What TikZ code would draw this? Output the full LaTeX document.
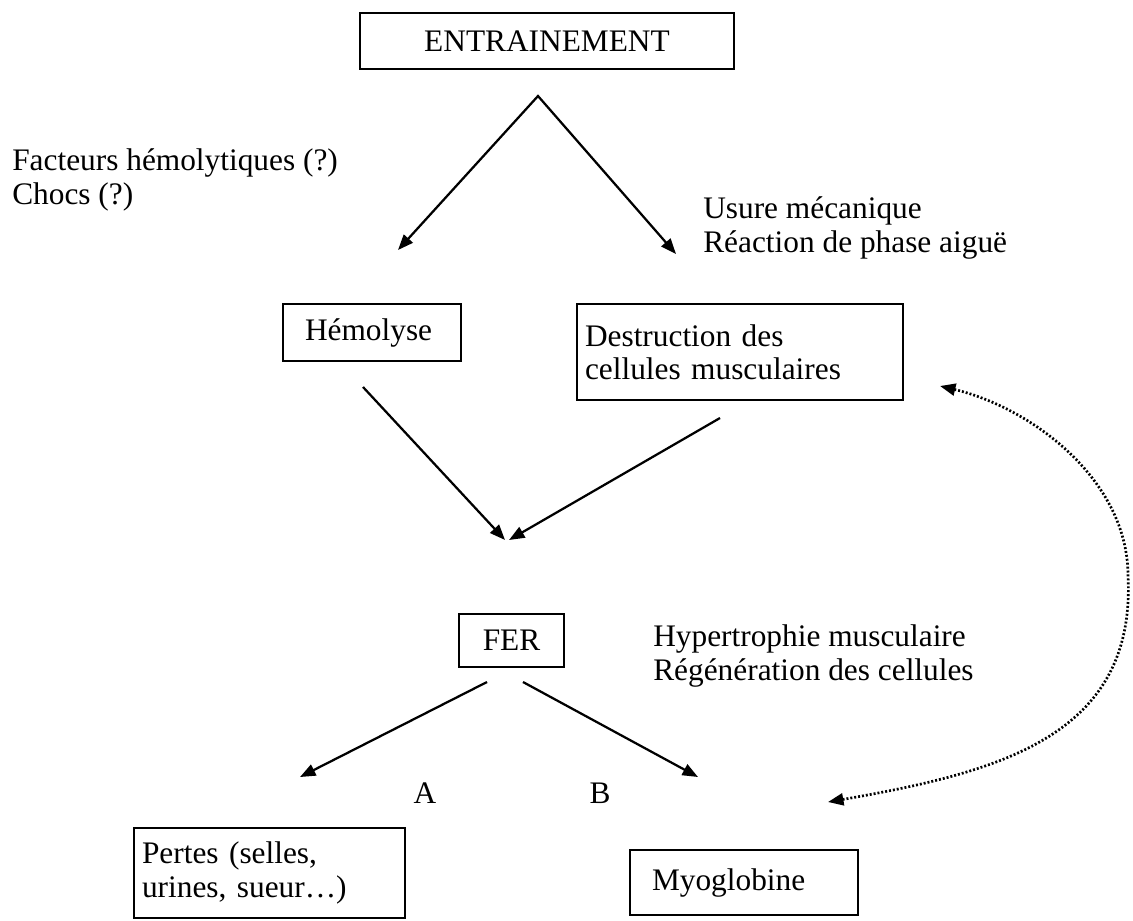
\documentclass[tikz,border=0pt]{standalone}
\usepackage{fontspec}
\setmainfont{Liberation Serif}
\usetikzlibrary{arrows.meta}

\begin{document}
\begin{tikzpicture}[
		boite/.style={draw, line width=1.3pt, inner ysep=0pt, align=left},
		fleche/.style={line width=1.6pt, -{Triangle[length=11pt,width=8.5pt]}},
		pointille/.style={line width=1.9pt, dash pattern=on 1.4pt off 1.4pt,
			{Triangle[length=11pt,width=8.5pt]}-{Triangle[length=11pt,width=8.5pt]}},
		every node/.style={font=\fontsize{22.3}{23.8}\selectfont}
	]
			%%%%% START %%%%%
			
			\useasboundingbox (0, 0) rectangle (28.325, -23);
			
			\node[boite, align=center, minimum width=9.35cm, minimum height=1.4cm] (entr) at (13.675, -1.025) {ENTRAINEMENT};
			
			% base = last line
			\node[anchor=base west, align=left, inner sep=0] (facteurs) at (0.3, -5.1) {Facteurs hémolytiques (?)\\Chocs (?)};
			\node[anchor=base west, align=left, inner sep=0] (usure) at (17.575, -6.3) {Usure mécanique\\Réaction de phase aiguë};
			
			\coordinate (sommet) at (13.45, -2.4);
			\coordinate (pointeG) at (9.95, -6.25);
			\coordinate (pointeD) at (16.9, -6.35);
			\draw[fleche, {Triangle[length=11pt,width=8.5pt]}-{Triangle[length=11pt,width=8.5pt]}] (pointeG) -- (sommet) -- (pointeD);
			
			\node[boite, inner xsep=0.55cm, text width=3.35cm, minimum height=1.425cm] (hemo) at (9.3, -8.3125) {Hémolyse};
			\node[boite, inner xsep=0.2cm, text width=7.75cm, minimum height=2.4cm] (destr) at (18.5, -8.8) {Destruction des\\cellules musculaires};
			
			\coordinate (departH) at (9.075, -9.675);
			\coordinate (departD) at (18, -10.45);
			\coordinate (arriveeH) at (12.625, -13.5);
			\coordinate (arriveeD) at (12.725, -13.5);
			\draw[fleche] (departH) -- (arriveeH);
			\draw[fleche] (departD) -- (arriveeD);
			
			\node[boite, align=center, minimum width=2.625cm, minimum height=1.325cm] (fer) at (12.7875, -16.0125) {FER};
			\node[anchor=base west, align=left, inner sep=0] (hyper) at (16.325, -17.0) {Hypertrophie musculaire\\Régénération des cellules};
			
			\coordinate (departA) at (12.175, -17.05);
			\coordinate (departB) at (13.075, -17.05);
			\coordinate (pointeA) at (7.5, -19.425);
			\coordinate (pointeB) at (17.45, -19.425);
			\draw[fleche] (departA) -- (pointeA);
			\draw[fleche] (departB) -- (pointeB);
			\node (lettreA) at (10.625, -19.825) {A};
			\node (lettreB) at (15, -19.825) {B};
			
			\node[boite, inner xsep=0.2cm, text width=6.375cm, minimum height=2.25cm] (pertes) at (6.7375, -21.825) {Pertes (selles,\\urines, sueur…)};
			\node[boite, inner xsep=0.55cm, text width=4.6cm, minimum height=1.625cm] (myo) at (18.6, -22.0625) {Myoglobine};
			
			\coordinate (retourH) at (23.5, -9.65);
			\coordinate (retourB) at (20.7, -20.05);
			\draw[pointille] (retourB) .. controls (25, -19.3) and (28.4, -18.4) .. (28.2, -14.4)
				.. controls (28.2, -12) and (25.8, -10.2) .. (retourH);
			
			%%%%% END %%%%%
\end{tikzpicture}
\end{document}
